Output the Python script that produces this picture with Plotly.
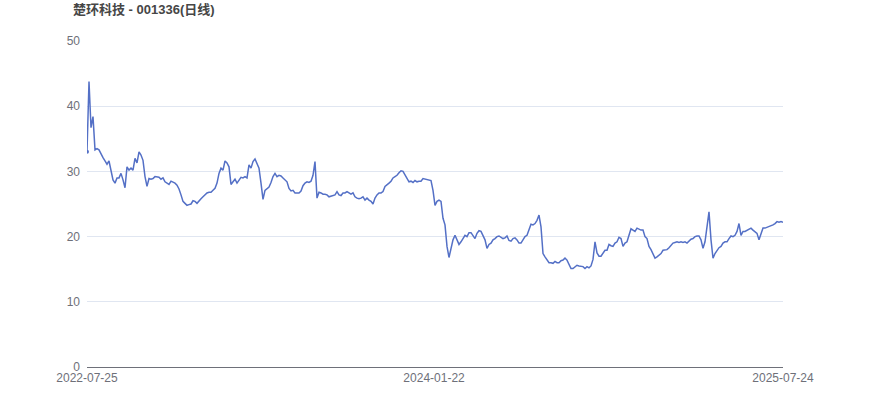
"""
楚环科技 daily close line, ECharts-like look, rebuilt with Plotly
"""

import pandas as pd
import plotly.graph_objects as go

TITLE = '楚环科技 - 001336(日线)'
START_DATE = '2022-07-25'
MID_DATE = '2024-01-22'
END_DATE = '2025-07-24'

# closing prices, evenly spaced in time
close_2022 = [
    33.0, 43.8, 36.7, 38.4, 33.3, 33.5, 33.3, 32.6, 32.1, 31.6, 31.1, 31.6,
    30.2, 28.7, 28.2, 29.0, 29.0, 29.7, 28.7, 27.5, 30.7, 30.2, 30.5, 30.2,
    32.0, 31.3, 33.0, 32.5, 31.7, 29.2, 27.7, 28.9, 28.8, 28.9, 29.2, 29.2,
    29.1, 28.8, 29.0, 28.4, 28.2, 28.0, 28.5, 28.4, 28.2, 27.9, 27.3, 26.4,
    25.4, 25.1, 24.8, 24.9, 25.0, 25.5, 25.4, 25.1, 25.5, 25.8, 26.1, 26.4,
    26.7, 26.8, 26.8, 27.1, 27.4, 28.2, 29.7, 30.5, 30.2, 31.6, 31.3, 30.7,
]
close_2023 = [
    28.0, 28.4, 28.8, 28.2, 28.7, 29.1, 29.0, 29.2, 29.0, 31.0, 30.5, 31.5,
    31.9, 31.3, 30.5, 28.2, 25.7, 27.1, 27.3, 27.6, 28.3, 29.2, 29.7, 29.2,
    29.4, 29.3, 29.0, 28.7, 28.4, 27.4, 27.0, 27.1, 26.7, 26.7, 26.7, 27.0,
    27.8, 28.2, 28.4, 28.3, 28.5, 29.4, 31.5, 25.9, 26.8, 26.7, 26.5, 26.5,
    26.4, 26.1, 26.2, 26.4, 26.4, 26.9, 26.4, 26.3, 26.7, 26.7, 26.9, 26.7,
    26.5, 26.7, 26.1, 25.9, 25.8, 25.9, 26.1, 25.6, 25.9, 25.6, 25.4, 25.0,
    25.9, 26.4, 26.7, 26.7, 26.9, 27.7, 27.9, 28.2, 28.5, 29.0, 29.2, 29.4,
    29.8, 30.1, 30.0, 29.4, 29.0, 28.4, 28.5, 28.3, 28.6, 28.4, 28.5, 28.5,
    28.9, 28.8, 28.7, 28.7, 28.6, 27.1,
]
close_2024 = [
    24.8, 25.4, 25.6, 25.4, 22.8, 21.8, 18.5, 16.8, 18.0, 19.5, 20.2, 19.5,
    18.8, 19.2, 19.7, 20.2, 20.0, 20.6, 20.6, 20.2, 19.7, 20.5, 20.9, 20.8,
    20.0, 19.5, 18.2, 18.8, 19.0, 19.5, 19.7, 20.0, 20.1, 19.9, 19.7, 19.8,
    20.1, 19.4, 19.3, 19.7, 19.8, 19.5, 19.0, 19.0, 19.5, 20.0, 20.2, 21.0,
    21.9, 21.8, 22.0, 22.5, 23.3, 21.5, 17.4, 16.9, 16.4, 16.0, 16.0, 15.9,
    16.2, 16.0, 16.0, 16.3, 16.4, 16.7, 16.4, 15.6, 15.1, 15.1, 15.4, 15.6,
    15.5, 15.5, 15.4, 15.1, 15.4, 15.2, 15.5, 16.5, 19.2, 17.5, 17.0, 17.0,
    17.4, 17.9, 17.9, 18.8, 18.6, 18.5, 19.0, 19.2, 19.9, 19.7, 18.5, 19.0,
    19.2, 20.4, 21.2, 21.0, 20.8, 21.3, 21.1, 21.0, 21.0, 20.0, 19.7, 18.5,
    18.0, 17.4, 16.7, 16.9, 17.2, 17.4, 17.9, 17.9, 18.0, 18.3, 18.6, 19.0,
]
close_2025 = [
    19.1, 19.2, 19.1, 19.2, 19.1, 19.2, 19.0, 19.3, 19.6, 19.7, 20.0, 20.1,
    20.1, 19.5, 18.2, 19.2, 21.8, 23.8, 19.5, 16.7, 17.4, 17.9, 18.3, 18.5,
    19.0, 19.2, 19.2, 19.7, 20.1, 20.0, 20.2, 20.8, 22.0, 20.2, 20.8, 20.8,
    21.0, 21.1, 21.3, 21.0, 20.8, 20.5, 19.5, 20.5, 21.3, 21.3, 21.4, 21.5,
    21.6, 21.8, 22.0, 22.3, 22.2, 22.3, 22.2,
]

close = close_2022 + close_2023 + close_2024 + close_2025
dates = pd.date_range(START_DATE, END_DATE, periods=len(close))

y_ticks = [0, 10, 20, 30, 40, 50]
x_ticks = [START_DATE, MID_DATE, END_DATE]

font_family = 'Liberation Sans, Arial, Noto Sans CJK SC, sans-serif'

fig = go.Figure()

fig.add_trace(go.Scatter(
    x=dates,
    y=close,
    mode='lines',
    line=dict(color='#5470c6', width=1.5),
    hoverinfo='skip',
    showlegend=False
))

# ECharts draws a small dot on the first point
fig.add_trace(go.Scatter(
    x=dates[:1],
    y=close[:1],
    mode='markers',
    marker=dict(color='#5470c6', size=4),
    hoverinfo='skip',
    showlegend=False
))

fig.update_layout(
    width=870,
    height=417,
    margin=dict(l=87, r=87, t=41, b=50),
    paper_bgcolor='white',
    plot_bgcolor='white',
    font=dict(family=font_family, size=12, color='#6e7079'),
    title=dict(
        text='<b>' + TITLE + '</b>',
        x=73 / 870,
        xanchor='left',
        y=1 - 9 / 417,
        yanchor='middle',
        font=dict(size=13, color='#464646', family=font_family)
    ),
    xaxis=dict(
        type='date',
        range=[START_DATE, END_DATE],
        tickvals=x_ticks,
        ticktext=x_ticks,
        showgrid=False,
        showline=True,
        linecolor='#6e7079',
        linewidth=1,
        ticks='',
        tickfont=dict(size=12, color='#6e7079'),
        zeroline=False,
        fixedrange=True
    ),
    yaxis=dict(
        range=[0, 50],
        tickvals=y_ticks,
        showgrid=True,
        gridcolor='#e0e6f1',
        gridwidth=1,
        showline=False,
        zeroline=False,
        ticks='',
        ticklabelstandoff=6,
        tickfont=dict(size=12, color='#6e7079'),
        fixedrange=True
    )
)

# drop the default 8px body margin so the figure sits at the page corner
fig.write_html(
    "out.html",
    config={'displayModeBar': False},
    post_script="document.body.style.margin = '0';"
)
